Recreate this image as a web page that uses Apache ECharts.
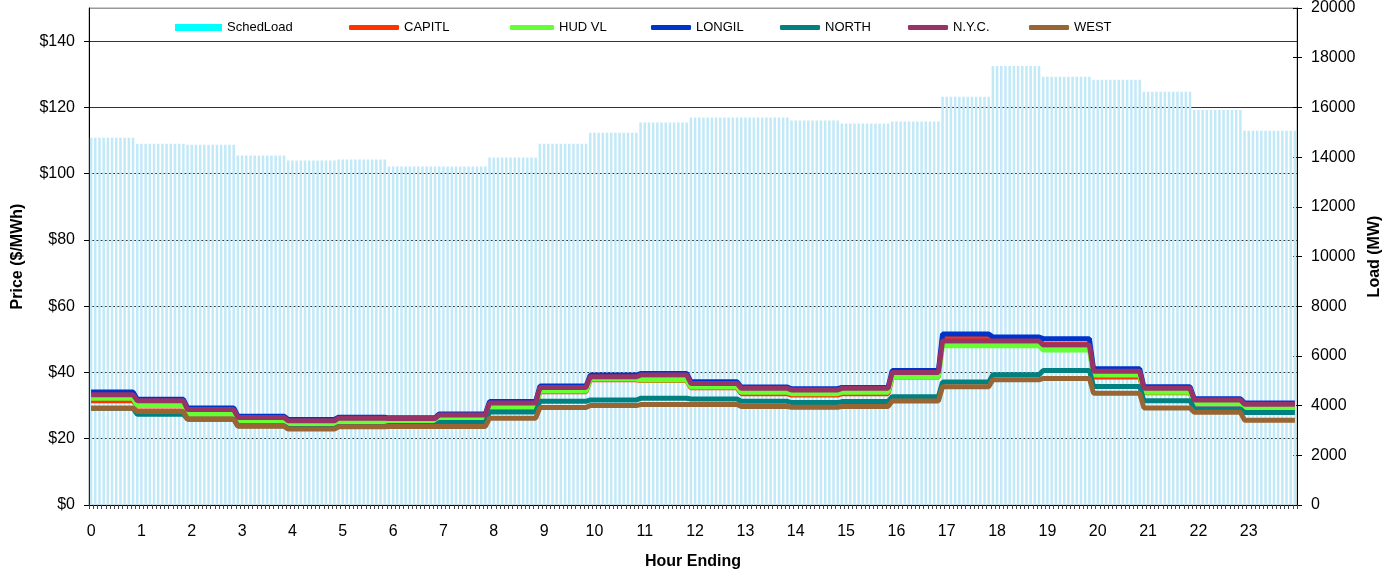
<!DOCTYPE html>
<html>
<head>
<meta charset="utf-8">
<script src="https://cdn.jsdelivr.net/npm/echarts@6/dist/echarts.min.js"></script>
<style>
html,body{margin:0;padding:0;background:#fff;}
#chart{width:1392px;height:575px;}
</style>
</head>
<body>
<div id="chart"></div>
<script>
const hourLabels = ['0','1','2','3','4','5','6','7','8','9','10','11','12','13','14','15','16','17','18','19','20','21','22','23'];
const schedLoad = [14780,14540,14500,14060,13860,13900,13620,13620,13980,14540,14980,15390,15590,15590,15470,15350,15430,16430,17670,17230,17110,16630,15900,15060];
const capitl = [31.5,29.9,27.4,25.1,24.0,25.0,25.1,25.9,29.6,34.2,37.8,37.6,35.4,33.6,33.2,33.6,38.6,50.3,49.7,48.5,38.6,33.9,30.5,29.3];
const hudvl  = [32.2,30.0,27.5,25.2,24.2,25.2,25.2,26.0,29.7,34.4,38.0,37.7,35.6,34.0,33.6,34.0,38.7,48.1,48.1,46.8,39.2,34.0,30.6,29.4];
const longil = [34.1,31.9,29.3,26.8,25.8,26.5,26.3,27.5,31.2,35.9,39.2,39.7,37.2,35.6,35.1,35.5,40.6,51.6,50.7,50.2,41.1,35.7,32.1,30.8];
const north  = [29.2,27.4,25.9,23.9,23.1,23.7,24.0,24.9,28.1,31.3,31.7,32.2,32.0,31.3,30.9,31.2,32.7,37.1,39.3,40.6,35.8,31.5,29.0,27.9];
const nyc    = [33.3,31.5,28.8,26.4,25.4,26.2,26.1,27.2,30.8,35.5,38.7,39.2,36.7,35.2,34.7,35.2,40.0,49.5,49.5,48.3,40.4,35.2,31.7,30.4];
const west   = [29.2,28.2,25.9,23.8,22.9,23.6,23.7,23.7,26.2,29.4,30.0,30.3,30.3,29.7,29.5,29.7,31.4,35.7,37.8,38.2,33.7,29.3,28.0,25.6];
const priceTicks = ['$0','$20','$40','$60','$80','$100','$120','$140'];

// 5-minute intervals: each hourly value spans the intervals of its hour
const N = 288;
const categories = [];
const hourOf = [];
for (let i = 0; i < N; i++) {
  const h = Math.floor(i / 12);
  categories.push(h + ':' + String((i % 12) * 5).padStart(2, '0'));
  hourOf.push(Math.min(23, Math.floor((i + 1) / 12)));
}
const expand = arr => hourOf.map(h => arr[h]);

const FONT = 'Arial, "Liberation Sans", sans-serif';
const chart = echarts.init(document.getElementById('chart'), null, {renderer: 'canvas'});

const lineSeries = [
  ['CAPITL', capitl, '#FF3300'],
  ['HUD VL', hudvl, '#66FF33'],
  ['LONGIL', longil, '#0033CC'],
  ['NORTH', north, '#008080'],
  ['N.Y.C.', nyc, '#993366'],
  ['WEST', west, '#996633']
];

const legendPos = [
  ['SchedLoad', 175, 47, 7, '#00FFFF', 'rect'],
  ['CAPITL', 349, 50, 5, '#FF3300', 'roundRect'],
  ['HUD VL', 510, 44, 5, '#66FF33', 'roundRect'],
  ['LONGIL', 651, 40, 5, '#0033CC', 'roundRect'],
  ['NORTH', 780, 40, 5, '#008080', 'roundRect'],
  ['N.Y.C.', 908, 40, 5, '#993366', 'roundRect'],
  ['WEST', 1029, 40, 5, '#996633', 'roundRect']
];

const option = {
  animation: false,
  backgroundColor: '#fff',
  textStyle: {fontFamily: FONT},
  grid: {left: 89, right: 95, top: 8, bottom: 68, show: true, borderColor: '#999', borderWidth: 1, backgroundColor: 'transparent'},
  legend: legendPos.map(p => ({
    left: p[1], top: 21, padding: 0,
    itemWidth: p[2], itemHeight: p[3], itemGap: 0,
    icon: p[5],
    selectedMode: false,
    textStyle: {fontFamily: FONT, fontSize: 13, color: '#000'},
    data: [{name: p[0], icon: p[5], itemStyle: {color: p[4]}}]
  })),
  xAxis: {
    type: 'category',
    data: categories,
    boundaryGap: true,
    name: 'Hour Ending',
    nameLocation: 'middle',
    nameGap: 49,
    nameTextStyle: {fontFamily: FONT, fontSize: 16, fontWeight: 'bold', color: '#000'},
    axisLine: {lineStyle: {color: '#000', width: 1}},
    axisTick: {show: true, interval: 0, length: 4, lineStyle: {color: '#444'}},
    axisLabel: {
      interval: 0, margin: 19, fontFamily: FONT, fontSize: 16, color: '#000',
      formatter: (v, idx) => (idx % 12 === 0 ? hourLabels[idx / 12] : '')
    },
    splitLine: {show: false}
  },
  yAxis: [
    {
      type: 'value', position: 'left', min: 0, max: 150, interval: 20,
      name: 'Price ($/MWh)', nameLocation: 'middle', nameGap: 63, nameRotate: 90,
      nameTextStyle: {fontFamily: FONT, fontSize: 16, fontWeight: 'bold', color: '#000'},
      axisLine: {show: true, lineStyle: {color: '#000', width: 1}},
      axisTick: {show: true, length: 5, lineStyle: {color: '#000'}},
      axisLabel: {
        margin: 14, fontFamily: FONT, fontSize: 16, color: '#000', showMaxLabel: false,
        formatter: v => (v % 20 === 0 ? priceTicks[v / 20] : '')
      },
      splitLine: {show: true, lineStyle: {color: ['#333','#333','#333','#333','#333','#333','#333','#333','#999'], width: 1}}
    },
    {
      type: 'value', position: 'right', min: 0, max: 20000, interval: 2000,
      name: 'Load (MW)', nameLocation: 'middle', nameGap: 70, nameRotate: 90,
      nameTextStyle: {fontFamily: FONT, fontSize: 16, fontWeight: 'bold', color: '#000'},
      axisLine: {show: true, lineStyle: {color: '#000', width: 1}},
      axisTick: {show: true, length: 5, lineStyle: {color: '#000'}},
      axisLabel: {margin: 14, fontFamily: FONT, fontSize: 16, color: '#000', formatter: v => String(v)},
      splitLine: {show: false}
    },
    {
      type: 'value', position: 'right', min: 0, max: 20000, interval: 2000,
      axisLine: {show: false},
      axisTick: {show: true, inside: true, length: 4, lineStyle: {color: '#000'}},
      axisLabel: {show: false},
      splitLine: {show: false}
    }
  ],
  series: [
    {
      name: 'SchedLoad', type: 'bar', yAxisIndex: 1,
      data: expand(schedLoad),
      barCategoryGap: '40%',
      itemStyle: {color: '#C2E9F8'},
      z: 1
    }
  ].concat(lineSeries.map(s => ({
    name: s[0], type: 'line', yAxisIndex: 0,
    data: expand(s[1]),
    showSymbol: false, symbol: 'none',
    lineStyle: {color: s[2], width: 5},
    itemStyle: {color: s[2]},
    z: 3
  })))
};
chart.setOption(option);
</script>
</body>
</html>
